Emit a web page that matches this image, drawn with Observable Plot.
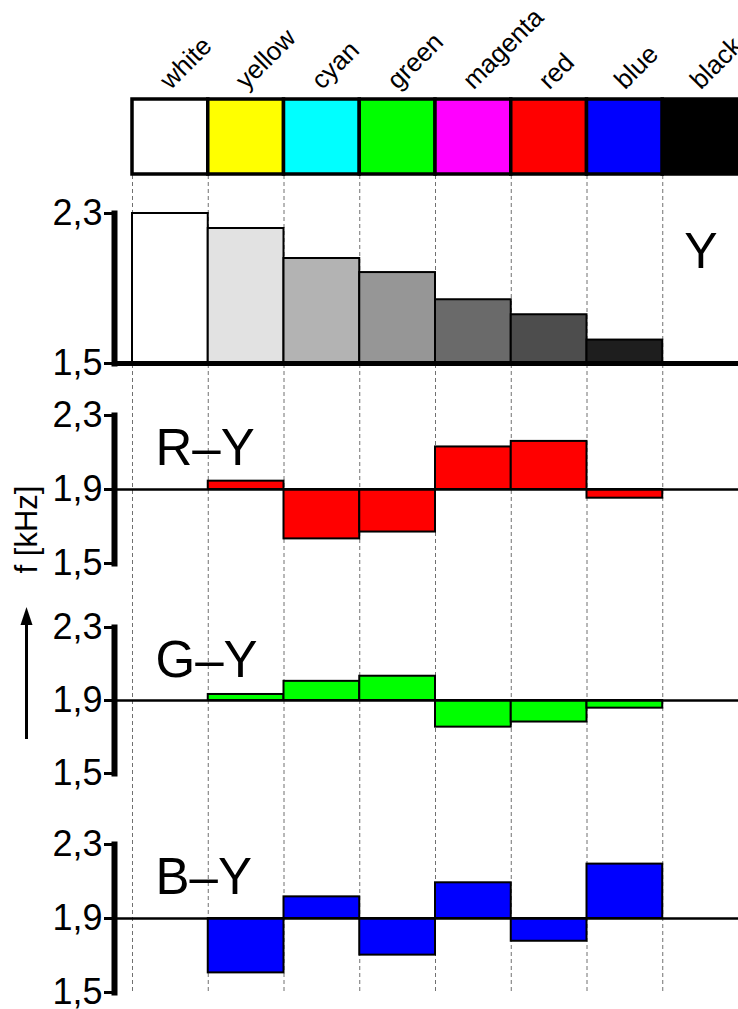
<!DOCTYPE html>
<html><head><meta charset="utf-8">
<script src="https://cdn.jsdelivr.net/npm/d3@7"></script>
<script src="https://cdn.jsdelivr.net/npm/@observablehq/plot@0.6"></script>
<style>
html,body{margin:0;padding:0;background:#fff;}
#chart{position:relative;width:738px;height:1009px;overflow:hidden;background:#fff;}
</style></head><body><div id="chart"></div>
<script>
// ---- data ----
const colorNames = ["white","yellow","cyan","green","magenta","red","blue","black"];
const swatchHex  = ["#ffffff","#ffff00","#00ffff","#00ff00","#ff00ff","#ff0000","#0000ff","#000000"];
const lumaGray   = ["#ffffff","#e2e2e2","#b3b3b3","#969696","#6a6a6a","#4d4d4d","#1e1e1e","#000000"];
const yValues  = [2.30, 2.22, 2.06, 1.985, 1.84, 1.76, 1.625, 1.50];
const ryValues = [1.90, 1.945, 1.633, 1.67, 2.13, 2.16, 1.853, 1.90];
const gyValues = [1.90, 1.933, 2.005, 2.033, 1.754, 1.782, 1.858, 1.90];
const byValues = [1.90, 1.606, 2.017, 1.702, 2.093, 1.777, 2.194, 1.90];
const yTicks    = [1.5, 2.3];
const diffTicks = [1.5, 1.9, 2.3];
const yDomain = [1.5, 2.3];
const reference = 1.9;
const axisTitle = "f [kHz]";

// ---- layout ----
const W = 738, H = 1009;
const FONT = '"Liberation Sans", Arial, sans-serif';
const chart = document.getElementById("chart");
const idx = d3.range(colorNames.length);
const xScale = {domain: [0, colorNames.length], range: [132, 738], axis: null};
const baseStyle = {fontFamily: FONT, background: "transparent", overflow: "visible", color: "black"};
const fmt = d => d.toFixed(1).replace(".", ",");

function place(el, top) {
  el.style.position = "absolute";
  el.style.left = "0px";
  el.style.top = top + "px";
  el.style.maxWidth = "none";
  el.style.height = "auto";
  chart.appendChild(el);
}

// background dashed grid + axis title
const grid = Plot.plot({
  width: W, height: H, marginTop: 175, marginBottom: 16, marginLeft: 0, marginRight: 0,
  x: xScale, style: baseStyle,
  marks: [
    Plot.ruleX(d3.range(colorNames.length + 1), {stroke: "#707070", strokeWidth: 1, strokeDasharray: "4,3"}),
    Plot.text([axisTitle], {frameAnchor: "left", rotate: -90, textAnchor: "middle", lineAnchor: "middle", dx: 27, dy: -55, fontSize: 31, fill: "black"})
  ]
});
place(grid, 0);
// upward arrow next to axis title
const gsel = d3.select(grid);
gsel.append("line").attr("x1", 26.5).attr("x2", 26.5).attr("y1", 739).attr("y2", 622)
  .attr("stroke", "black").attr("stroke-width", 3);
gsel.append("path").attr("d", "M20.5,625 L32.5,625 L26.5,607 Z").attr("fill", "black");

// header colour bar with rotated labels
const header = Plot.plot({
  width: W, height: 180, marginTop: 99, marginBottom: 6, marginLeft: 0, marginRight: 0,
  x: xScale, color: {type: "identity"}, style: baseStyle,
  marks: [
    Plot.rect(idx, {x1: i => i, x2: i => i + 1, fill: i => swatchHex[i], stroke: "black", strokeWidth: 3.5}),
    Plot.text(idx, {x: i => i + 0.5, text: i => colorNames[i], frameAnchor: "top", rotate: -45,
      textAnchor: "start", lineAnchor: "bottom", dx: 0, dy: -9, fontSize: 26, fill: "black"})
  ]
});
place(header, 0);

function panel(values, fills, base, ticks, frameTop, frameBottom, label, isLuma) {
  const pad = 40;
  const bars = idx.filter(i => values[i] !== base);
  const marks = [
    Plot.rect(bars, {x1: i => i, x2: i => i + 1, y1: base, y2: i => values[i], fill: i => fills[i], stroke: "black", strokeWidth: 2}),
  ];
  if (isLuma) {
    marks.push(Plot.frame({anchor: "bottom", stroke: "black", strokeWidth: 5}));
    marks.push(Plot.text([label], {frameAnchor: "top-right", textAnchor: "end", lineAnchor: "top", dx: -21, dy: 19, fontSize: 50, fill: "black"}));
  } else {
    marks.push(Plot.ruleY([reference], {stroke: "black", strokeWidth: 2.5}));
    marks.push(Plot.text([label], {frameAnchor: "top-left", textAnchor: "start", lineAnchor: "top", dx: 41, dy: 13, fontSize: 51, fill: "black"}));
  }
  marks.push(Plot.frame({anchor: "left", stroke: "black", strokeWidth: 6}));
  marks.push(Plot.axisY({ticks, tickFormat: fmt, tickSize: 10, tickPadding: 2, fontSize: 36, strokeWidth: 3, label: null, fill: "black"}));
  const p = Plot.plot({
    width: W, height: (frameBottom - frameTop) + 2 * pad, marginTop: pad, marginBottom: pad,
    marginLeft: 114, marginRight: 0,
    x: xScale, y: {domain: yDomain, axis: null}, color: {type: "identity"}, style: baseStyle,
    marks
  });
  place(p, frameTop - pad);
}

panel(yValues, lumaGray, 1.5, yTicks, 213, 363, "Y", true);
panel(ryValues, idx.map(() => "#ff0000"), reference, diffTicks, 415, 563, "R–Y", false);
panel(gyValues, idx.map(() => "#00ff00"), reference, diffTicks, 627, 773, "G–Y", false);
panel(byValues, idx.map(() => "#0000ff"), reference, diffTicks, 844, 992, "B–Y", false);
</script></body></html>
